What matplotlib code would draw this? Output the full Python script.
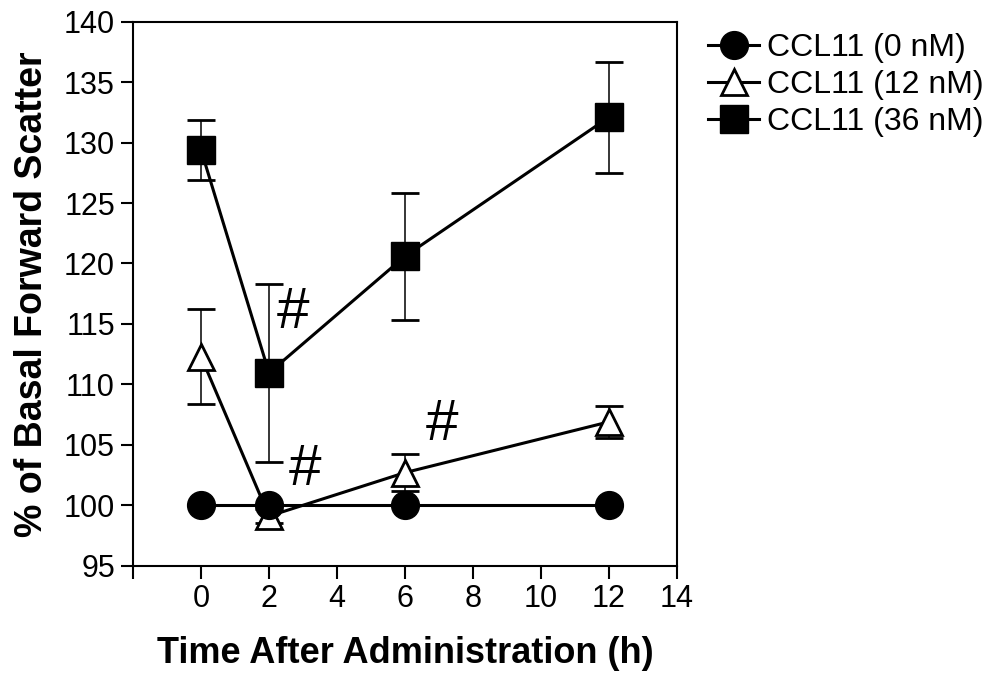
import numpy as np
import matplotlib
matplotlib.use("Agg")
import matplotlib.pyplot as plt

plt.rcParams['font.family'] = ['Liberation Sans', 'DejaVu Sans']

# --- data ---
time_h = [0, 2, 6, 12]
ccl11_0 = [100, 100, 100, 100]
ccl11_12 = [112.3, 99.1, 102.7, 106.9]
ccl11_12_err = [3.9, 0.6, 1.5, 1.3]
ccl11_36 = [129.4, 110.95, 120.6, 132.1]
ccl11_36_err = [2.5, 7.35, 5.25, 4.6]

labels = ["CCL11 (0 nM)", "CCL11 (12 nM)", "CCL11 (36 nM)"]

# significance marks (x, y)
hash_x = [2.71, 3.07, 7.08]
hash_y = [115.9, 102.9, 106.6]

x_ticks = [0, 2, 4, 6, 8, 10, 12, 14]
y_ticks = [95, 100, 105, 110, 115, 120, 125, 130, 135, 140]

fig = plt.figure(figsize=(10.04, 6.73), dpi=100)
ax = fig.add_axes([133 / 1004, 1 - 565.7 / 673, (677 - 133) / 1004, (565.7 - 21.7) / 673])

lw = 2.2
ms = 19

# error bars first, behind markers
ax.errorbar(time_h, ccl11_12, yerr=ccl11_12_err, fmt='none', ecolor='black',
            elinewidth=1.1, capsize=10, capthick=2.0, zorder=2)
ax.errorbar(time_h, ccl11_36, yerr=ccl11_36_err, fmt='none', ecolor='black',
            elinewidth=1.1, capsize=10, capthick=2.0, zorder=2)

h12, = ax.plot(time_h, ccl11_12, color='black', lw=lw, marker='^', ms=ms,
               mfc='white', mec='black', mew=2.0, zorder=3, label=labels[1])
h36, = ax.plot(time_h, ccl11_36, color='black', lw=lw, marker='s', ms=ms + 0.5,
               mfc='black', mec='black', zorder=4, label=labels[2])
h0, = ax.plot(time_h, ccl11_0, color='black', lw=lw, marker='o', ms=ms + 1,
              mfc='black', mec='black', zorder=5, label=labels[0])

for hx, hy in zip(hash_x, hash_y):
    ax.text(hx, hy, "#", fontsize=42, ha='center', va='center')

ax.set_xlim(-2, 14)
ax.set_ylim(95, 140)
ax.set_xticks([-2] + x_ticks)
ax.set_xticklabels([""] + [str(t) for t in x_ticks])
ax.set_yticks(y_ticks)
ax.tick_params(axis='both', direction='out', length=9, width=1.5, labelsize=22,
               pad=4)
for s in ax.spines.values():
    s.set_linewidth(1.5)

ax.set_xlabel("Time After Administration (h)", fontsize=26, fontweight='bold',
              labelpad=16)
ax.set_ylabel("% of Basal Forward Scatter", fontsize=27, fontweight='bold',
              labelpad=10)

fig.legend(handles=[h0, h12, h36], labels=labels, loc='upper left',
           bbox_to_anchor=(708 / 1004, 1 - 33 / 673), frameon=False,
           fontsize=23, handlelength=1.6, handletextpad=0.25,
           labelspacing=0.22, borderpad=0, borderaxespad=0)

fig.savefig("out.png", dpi=100)
